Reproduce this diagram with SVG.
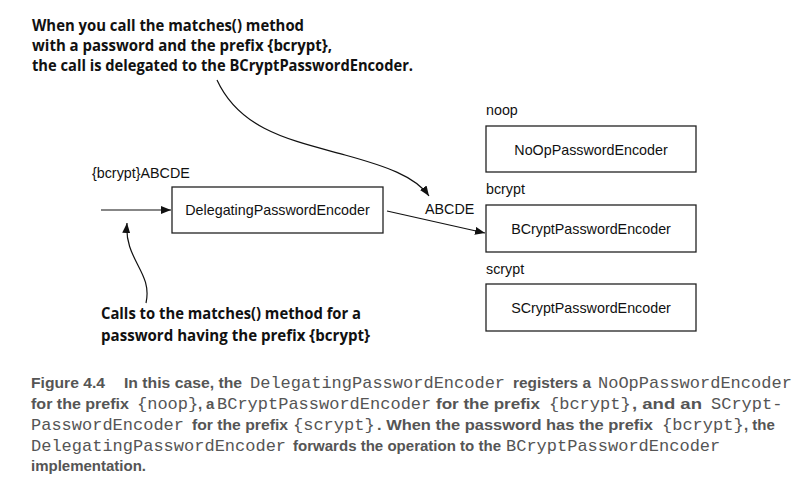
<svg xmlns="http://www.w3.org/2000/svg" width="804" height="492" viewBox="0 0 804 492">
<style>
.box{fill:#fff;stroke:#222;stroke-width:1.3}
.lbl{font-family:"Liberation Sans",Arial,sans-serif;font-size:14.3px;fill:#111}
.mid{text-anchor:middle}
.note{font-family:"Open Sans","Liberation Sans",sans-serif;font-weight:bold;font-size:16px;fill:#111}
.conn{fill:none;stroke:#111;stroke-width:1.2}
.cap{font-family:"Liberation Sans",Arial,sans-serif;font-weight:bold;font-size:15px;fill:#555}
.mono{font-family:"Liberation Mono","Courier New",monospace;font-weight:normal;font-size:17px;fill:#555}
</style>
<defs>
<marker id="ah" viewBox="0 0 10 8" refX="10" refY="4" markerWidth="10" markerHeight="8" markerUnits="userSpaceOnUse" orient="auto">
<path d="M0,0 L10,4 L0,8 z" fill="#111"/>
</marker>
</defs>
<rect width="804" height="492" fill="#fff"/>

<g id="note-top">
<text class="note" x="32" y="31" textLength="272" lengthAdjust="spacingAndGlyphs">When you call the matches() method</text>
<text class="note" x="32" y="51" textLength="300" lengthAdjust="spacingAndGlyphs">with a password and the prefix {bcrypt},</text>
<text class="note" x="32" y="71" textLength="381" lengthAdjust="spacingAndGlyphs">the call is delegated to the BCryptPasswordEncoder.</text>
</g>

<g id="note-bottom">
<text class="note" x="101" y="319" textLength="260" lengthAdjust="spacingAndGlyphs">Calls to the matches() method for a</text>
<text class="note" x="101" y="341" textLength="269" lengthAdjust="spacingAndGlyphs">password having the prefix {bcrypt}</text>
</g>

<g id="delegating">
<rect class="box" x="172" y="187" width="211" height="46"/>
<text class="lbl mid" x="277.5" y="215">DelegatingPasswordEncoder</text>
</g>

<g id="noop">
<text class="lbl" x="486" y="115">noop</text>
<rect class="box" x="486" y="126" width="210" height="46"/>
<text class="lbl mid" x="591" y="155">NoOpPasswordEncoder</text>
</g>

<g id="bcrypt">
<text class="lbl" x="486" y="194">bcrypt</text>
<rect class="box" x="486" y="205" width="210" height="47"/>
<text class="lbl mid" x="591" y="234">BCryptPasswordEncoder</text>
</g>

<g id="scrypt">
<text class="lbl" x="486" y="274">scrypt</text>
<rect class="box" x="486" y="284" width="210" height="47"/>
<text class="lbl mid" x="591" y="313">SCryptPasswordEncoder</text>
</g>

<g id="connectors">
<line class="conn" x1="101" y1="210" x2="171" y2="210" marker-end="url(#ah)"/>
<text class="lbl" x="92" y="178">{bcrypt}ABCDE</text>
<line class="conn" x1="387" y1="211" x2="485" y2="233" marker-end="url(#ah)"/>
<text class="lbl" x="425" y="214">ABCDE</text>
<path class="conn" d="M217,80 C240,130 290,140 345,155 C385,166 415,176 429,196" marker-end="url(#ah)"/>
<path class="conn" d="M146,303 C153,272 124,260 127,223" marker-end="url(#ah)"/>
</g>

<g id="caption">
<text class="cap" y="388"><tspan x="31" textLength="74" lengthAdjust="spacingAndGlyphs">Figure 4.4</tspan><tspan x="124" textLength="118" lengthAdjust="spacingAndGlyphs">In this case, the</tspan><tspan class="mono" x="250">DelegatingPasswordEncoder</tspan><tspan x="513" textLength="78" lengthAdjust="spacingAndGlyphs">registers a</tspan><tspan class="mono" x="598">NoOpPasswordEncoder</tspan></text>
<text class="cap" y="409"><tspan x="31" textLength="98" lengthAdjust="spacingAndGlyphs">for the prefix</tspan><tspan class="mono" x="137">{noop}</tspan><tspan x="198">,</tspan><tspan x="206">a</tspan><tspan class="mono" x="217">BCryptPasswordEncoder</tspan><tspan x="436" textLength="104" lengthAdjust="spacingAndGlyphs">for the prefix</tspan><tspan class="mono" x="549">{bcrypt}</tspan><tspan x="632" textLength="70" lengthAdjust="spacingAndGlyphs">, and an</tspan><tspan class="mono" x="711">SCrypt-</tspan></text>
<text class="cap" y="430"><tspan class="mono" x="31">PasswordEncoder</tspan><tspan x="192" textLength="96" lengthAdjust="spacingAndGlyphs">for the prefix</tspan><tspan class="mono" x="293">{scrypt}</tspan><tspan x="377" textLength="276" lengthAdjust="spacingAndGlyphs">. When the password has the prefix</tspan><tspan class="mono" x="662">{bcrypt}</tspan><tspan x="744">, the</tspan></text>
<text class="cap" y="451"><tspan class="mono" x="31">DelegatingPasswordEncoder</tspan><tspan x="293" textLength="208" lengthAdjust="spacingAndGlyphs">forwards the operation to the</tspan><tspan class="mono" x="506">BCryptPasswordEncoder</tspan></text>
<text class="cap" y="471"><tspan x="31">implementation.</tspan></text>
</g>
</svg>
